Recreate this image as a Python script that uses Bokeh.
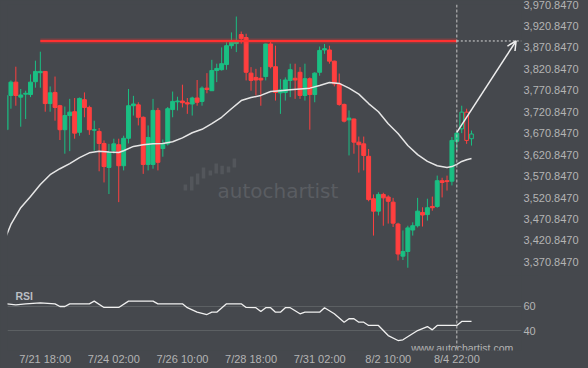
import numpy as np
from bokeh.plotting import figure
from bokeh.layouts import column
from bokeh.models import (Range1d, FixedTicker, NumeralTickFormatter, Span, Arrow, OpenHead,
                          ColumnDataSource, GlobalInlineStyleSheet)
from bokeh.core.properties import value
from bokeh.embed import file_html
from bokeh.resources import INLINE

# ---------------- data ----------------
opens = [3679, 3759, 3790, 3755, 3762, 3761, 3791, 3812, 3815, 3740,
         3766, 3735, 3679, 3712, 3721, 3673, 3749, 3731, 3678, 3675,
         3647, 3591, 3630, 3644, 3595, 3659, 3735, 3737, 3708, 3598,
         3598, 3724, 3635, 3646, 3726, 3744, 3746, 3742, 3739, 3753,
         3745, 3776, 3770, 3817, 3819, 3831, 3875, 3880, 3901, 3894,
         3811, 3801, 3799, 3803, 3879, 3826, 3765, 3766, 3794, 3799,
         3813, 3759, 3798, 3761, 3813, 3865, 3865, 3839, 3786, 3738,
         3702, 3704, 3650, 3646, 3617, 3518, 3489, 3528, 3522, 3510,
         3459, 3384, 3395, 3445, 3455, 3486, 3481, 3500, 3500, 3560,
         3560, 3559, 3652, 3681, 3720, 3658]
highs = [3761, 3794, 3826, 3774, 3770, 3808, 3840, 3861, 3816, 3780,
         3803, 3737, 3733, 3751, 3753, 3754, 3766, 3735, 3700, 3683,
         3654, 3646, 3658, 3658, 3665, 3774, 3758, 3743, 3710, 3689,
         3751, 3730, 3656, 3732, 3768, 3756, 3784, 3753, 3756, 3795,
         3780, 3811, 3842, 3833, 3871, 3883, 3906, 3943, 3908, 3903,
         3825, 3821, 3825, 3880, 3887, 3875, 3797, 3801, 3833, 3833,
         3825, 3833, 3801, 3813, 3873, 3879, 3875, 3840, 3810, 3740,
         3724, 3705, 3663, 3663, 3634, 3528, 3533, 3532, 3526, 3520,
         3462, 3444, 3455, 3463, 3520, 3498, 3518, 3523, 3572, 3567,
         3572, 3662, 3675, 3735, 3728, 3677]
lows = [3676, 3728, 3735, 3686, 3704, 3755, 3777, 3777, 3721, 3721,
        3700, 3655, 3623, 3629, 3658, 3665, 3708, 3667, 3630, 3582,
        3556, 3529, 3623, 3510, 3584, 3647, 3712, 3689, 3576, 3584,
        3588, 3584, 3616, 3642, 3708, 3724, 3731, 3716, 3712, 3735,
        3735, 3764, 3770, 3790, 3817, 3819, 3868, 3860, 3880, 3794,
        3770, 3759, 3735, 3794, 3822, 3747, 3716, 3747, 3755, 3751,
        3751, 3747, 3679, 3743, 3805, 3856, 3833, 3780, 3735, 3696,
        3619, 3623, 3579, 3584, 3512, 3432, 3479, 3455, 3460, 3452,
        3374, 3375, 3357, 3432, 3451, 3453, 3467, 3490, 3497, 3521,
        3537, 3549, 3630, 3671, 3646, 3642]
closes = [3759, 3790, 3759, 3760, 3764, 3790, 3815, 3815, 3740, 3765,
          3731, 3679, 3712, 3720, 3671, 3752, 3731, 3679, 3679, 3647,
          3593, 3626, 3646, 3595, 3659, 3735, 3739, 3708, 3598, 3661,
          3724, 3603, 3645, 3728, 3745, 3746, 3742, 3739, 3753, 3743,
          3776, 3773, 3817, 3822, 3833, 3875, 3883, 3887, 3892, 3813,
          3794, 3795, 3795, 3879, 3826, 3766, 3772, 3795, 3819, 3795,
          3759, 3798, 3761, 3811, 3864, 3868, 3839, 3786, 3738, 3699,
          3706, 3650, 3644, 3619, 3516, 3489, 3528, 3520, 3512, 3461,
          3389, 3395, 3450, 3455, 3489, 3480, 3497, 3497, 3560, 3556,
          3558, 3654, 3671, 3720, 3654, 3669]
first_hollow = 93          # candles after the pattern end are drawn hollow

ma_idx = [0, 1, 3, 5, 7, 9, 11, 13, 15, 17, 19, 21, 23, 24, 26, 28, 30, 32, 34, 36,
          38, 40, 42, 44, 46, 48, 50, 52, 54, 56, 58, 60, 62, 64, 66, 68, 70, 72, 74,
          76, 78, 80, 82, 84, 86, 88, 90, 91, 92, 93, 94, 95]
ma_val = [3430, 3458, 3497, 3523, 3551, 3574, 3588, 3600, 3614, 3625, 3629, 3627, 3626,
          3630, 3640, 3644, 3646, 3647, 3651, 3660, 3672, 3680, 3693, 3708, 3728, 3747,
          3754, 3759, 3768, 3770, 3772, 3774, 3776, 3782, 3789, 3787, 3776, 3762, 3740,
          3721, 3693, 3670, 3642, 3621, 3605, 3595, 3591, 3593, 3598, 3605, 3609, 3612]

rsi_idx = [0, 2, 4, 7, 10, 11, 12, 13, 17, 18, 20, 23, 25, 30, 31, 36, 37, 39, 41, 42,
           43, 45, 48, 49, 51, 52, 53, 54, 55, 56, 57, 58, 60, 61, 64, 65, 67, 69, 70,
           71, 72, 73, 74, 76, 78, 80, 81, 84, 86, 87, 88, 92, 93, 95]
rsi_val = [62.2, 61.4, 62.2, 63, 62.2, 60, 60, 62.2, 62.2, 64.4, 59.2, 59.2, 64.4, 64.4,
           62.2, 62.2, 59, 55.3, 53.4, 55.3, 55.3, 62.2, 62.2, 59.2, 59, 55.9, 59, 59,
           55.3, 55.3, 59, 59, 54, 55.3, 55.3, 59, 54, 47.1, 49.9, 49.9, 47.1, 47.1, 44.4,
           44.4, 36.1, 32, 32.6, 40.2, 43.5, 40.8, 44.4, 44.4, 47.7, 47.7]

level = 3886.0             # resistance level
level_start = 7
pattern_end = 92
target_idx = 104.1
arrow_start_price = 3673

price_ticks = [3370.847, 3420.847, 3470.847, 3520.847, 3570.847, 3620.847, 3670.847,
               3720.847, 3770.847, 3820.847, 3870.847, 3920.847, 3970.847]
rsi_ticks = [40, 60]
tick_idx = [8, 22, 36, 50, 64, 78, 92]
tick_labels = ["7/21 18:00", "7/24 02:00", "7/26 10:00", "7/28 18:00",
               "7/31 02:00", "8/2 10:00", "8/4 22:00"]

# watermark logo bars (index, bottom, top)
logo_x = [36.6, 37.9, 39.1, 40.3, 41.7, 42.9, 44.1, 45.4, 46.6]
logo_bot = [3537, 3537, 3551, 3565, 3572, 3577, 3575, 3579, 3591]
logo_top = [3551, 3570, 3577, 3591, 3584, 3600, 3595, 3593, 3612]

# ---------------- style ----------------
BG = "#45484d"
GREEN = "#1abf83"
RED = "#ff3f3f"
TXT = "#b4b4b4"
FONT = "Liberation Sans"

o = np.array(opens, float); h = np.array(highs, float)
l = np.array(lows, float); c = np.array(closes, float)
idx = np.arange(len(o))
up = c >= o
hol = idx >= first_hollow

x_range = Range1d(0.3, 105.2)

p = figure(frame_width=514, frame_height=271, x_range=x_range,
           y_range=Range1d(3338.9, 3971.1), output_backend="svg",
           toolbar_location=None, tools="", y_axis_location="right",
           x_axis_location=None, min_border_left=7, min_border_top=4,
           min_border_bottom=0, min_border_right=0,
           background_fill_color=BG, border_fill_color=BG, outline_line_color=None)
p.grid.visible = False

# watermark
p.vbar(x=logo_x, bottom=logo_bot, top=logo_top, width=0.72, fill_color="#53565b",
       line_color=None)
p.text(x=[55.5], y=[3537], text=["autochartist"],
       text_font=value("'DejaVu Sans ExtraLight', 'DejaVu Sans'"),
       text_font_size="20px", text_color="#5a5d62", text_align="center",
       text_baseline="alphabetic")

def add_candles(mask, color, hollow):
    src = ColumnDataSource(dict(x=idx[mask], lo=l[mask], hi=h[mask],
                                top=np.maximum(o, c)[mask], bot=np.minimum(o, c)[mask]))
    p.segment(x0="x", y0="lo", x1="x", y1="hi", source=src, line_color=color, line_width=1)
    if hollow:
        p.vbar(x="x", top="top", bottom="bot", width=0.75, source=src,
               fill_color=BG, line_color=color, line_width=1)
    else:
        p.vbar(x="x", top="top", bottom="bot", width=0.8, source=src,
               fill_color=color, line_color=color, line_width=1)

add_candles(up & ~hol, GREEN, False)
add_candles(~up & ~hol, RED, False)
add_candles(up & hol, GREEN, True)
add_candles(~up & hol, RED, True)

p.line(ma_idx, ma_val, line_color="#e6e6e6", line_width=1.5)

p.line([level_start, pattern_end], [level, level], line_color="#ff3030", line_width=5, line_alpha=0.3)
p.line([level_start, pattern_end], [level, level], line_color="#ff3030", line_width=2)
p.line([pattern_end, x_range.end], [level, level], line_color="#d8d8d8", line_width=1,
       line_dash="2 2")
p.add_layout(Span(location=pattern_end, dimension="height", line_color="#c4c4c4",
                  line_dash="3 2", line_width=1))
p.add_layout(Arrow(end=OpenHead(size=9, line_color="#eeeeee", line_width=1.5),
                   x_start=pattern_end, y_start=arrow_start_price, x_end=target_idx, y_end=level,
                   line_color="#eeeeee", line_width=1.5))

ya = p.yaxis[0]
ya.ticker = FixedTicker(ticks=price_ticks)
ya.formatter = NumeralTickFormatter(format="0,0.0000")

# ---------------- RSI panel ----------------
p2 = figure(frame_width=514, frame_height=75, x_range=x_range, y_range=Range1d(23.8, 85.5),
            output_backend="svg", toolbar_location=None, tools="",
            y_axis_location="right", x_axis_location="below",
            min_border_left=7, min_border_top=0, min_border_bottom=0, min_border_right=0,
            background_fill_color=BG, border_fill_color=BG, outline_line_color=None)
p2.xgrid.visible = False
p2.ygrid.ticker = FixedTicker(ticks=rsi_ticks)
p2.ygrid.grid_line_color = "#5c6063"
p2.yaxis.ticker = FixedTicker(ticks=rsi_ticks)
p2.xaxis.ticker = FixedTicker(ticks=tick_idx)
p2.xaxis.major_label_overrides = {t: s for t, s in zip(tick_idx, tick_labels)}

p2.line(rsi_idx, rsi_val, line_color="#f0f0f0", line_width=1.3)
p2.add_layout(Span(location=pattern_end, dimension="height", line_color="#c4c4c4",
                   line_dash="3 2", line_width=1))
p2.text(x=[1.94], y=[69], text=["RSI"], text_font=value(FONT), text_font_style="bold",
        text_font_size="10.5px", text_color="#babec3", text_baseline="alphabetic")
p2.text(x=[93.1], y=[26], text=["www.autochartist.com"], text_font=value(FONT),
        text_font_size="10.5px", text_color="#b4b4b4", text_align="center",
        text_baseline="alphabetic")

for ax in [p.yaxis[0], p2.yaxis[0], p2.xaxis[0]]:
    ax.axis_line_color = None
    ax.major_tick_line_color = None
    ax.minor_tick_line_color = None
    ax.major_tick_out = 0
    ax.major_tick_in = 0
    ax.major_label_standoff = 2
    ax.major_label_text_font = FONT
    ax.major_label_text_font_size = "11px"
    ax.major_label_text_color = TXT

layout = column(p, p2, spacing=0, stylesheets=[GlobalInlineStyleSheet(
    css="html, body { margin: 0; padding: 0; background: #45484d; overflow: hidden; }")])

open("out.html", "w").write(file_html(layout, INLINE, title="chart"))
